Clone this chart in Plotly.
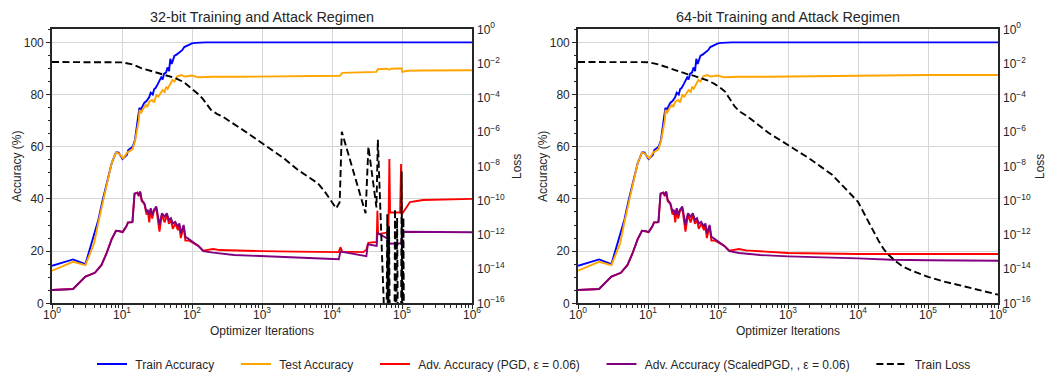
import plotly.graph_objects as go

# ---------------- data ----------------
# Train accuracy (same in both regimens)
train_iters = [1, 2, 3, 3.9, 4.6, 5.3, 6.0, 7.1, 8.2, 8.9, 10.2, 11.2, 11.7, 12.3, 14.2, 15.3,
               16.1, 17.0, 17.7, 18.6, 19.5, 20.9, 22.4, 23.4, 24.5, 25.7, 27.5, 28.8, 30.2,
               32.4, 34.0, 36.3, 38.0, 39.8, 42.7, 44.7, 47.0, 49.0, 51.3, 53.7, 56.2, 60.3,
               66.1, 72.4, 77.6, 85.1, 91.2, 100, 112, 126, 141, 158, 1e6]
train_acc = [14.4, 16.8, 15.0, 24.9, 32.0, 39.6, 45.3, 53.6, 57.8, 57.8, 55.3, 56.5, 56.8, 58.7,
             60.0, 62.5, 66.4, 70.2, 74.9, 74.3, 75.5, 76.9, 77.5, 78.2, 79.0, 80.7, 80.0, 82.1,
             82.5, 84.0, 85.0, 86.6, 85.8, 87.9, 88.5, 90.4, 89.0, 93.7, 91.7, 93.5, 94.9, 95.3,
             96.2, 97.0, 98.2, 98.8, 99.3, 99.6, 99.8, 99.9, 100.0, 100.0, 100.0]

# Test accuracy, shared early part
test_iters = [1, 2, 3, 4.0, 4.6, 5.3, 6.0, 7.1, 8.2, 9.0, 10.4, 11.9, 14.1, 15.3, 16.1, 17.4,
              17.8, 18.6, 20.0, 21.9, 23.0, 24.5, 26.9, 28.8, 30.9, 33.1, 35.5, 38.0, 40.7,
              42.7, 45.0, 47.9, 50.1, 52.5, 56.2, 58.9, 61.7, 70.8, 77.6, 89.1, 100, 123, 158,
              200, 500, 1000, 5000, 12000]
test_acc = [12.5, 15.9, 14.6, 23.0, 31.0, 39.0, 45.0, 53.6, 57.8, 57.4, 55.5, 57.8, 59.0, 62.0,
            65.7, 70.2, 74.1, 72.8, 74.5, 76.0, 75.3, 77.3, 77.9, 77.0, 79.8, 79.2, 80.5, 81.7,
            81.0, 83.0, 82.2, 83.6, 84.8, 85.6, 85.0, 86.2, 87.0, 87.5, 86.9, 87.1, 87.3, 86.6,
            86.7, 86.8, 86.8, 86.9, 87.0, 87.1]
test32_late_iters = [13000, 14000, 20000, 30000, 40000, 43000, 45000, 60000, 66000, 70000,
                     90000, 99000, 101000, 120000, 200000, 1e6]
test32_late_acc = [87.2, 88.3, 88.4, 88.5, 88.6, 88.7, 89.7, 89.9, 89.5, 89.9, 90.0, 90.0,
                   88.7, 89.1, 89.2, 89.3]
test64_late_iters = [13000, 100000, 1e6]
test64_late_acc = [87.2, 87.5, 87.5]

# Adversarial accuracies, shared early part
adv_iters = [1, 2, 3, 4.1, 5.1, 6.0, 7.1, 8.2, 9.3, 10.2, 11.5, 12.2, 13.5, 14.1, 15.1, 16.6,
             17.4, 18.2, 19.1, 20.9, 22.4, 23.4, 24.5, 25.7, 27.0, 28.5, 30.9, 32.4, 34.3, 37.2,
             40.7, 43.7, 46.8, 50.1, 53.1, 57.5, 63.1, 66.1, 69.2, 75.9, 80.4, 91.2, 107, 123, 145]
pgd_acc = [5.1, 5.5, 10.2, 11.7, 14.7, 19.1, 24.5, 27.8, 27.6, 27.3, 29.4, 31.0, 31.0, 31.2,
           41.8, 42.4, 41.0, 42.8, 39.2, 38.0, 34.0, 35.5, 31.0, 36.0, 32.5, 35.2, 36.5, 31.5,
           27.5, 34.0, 31.0, 34.0, 30.5, 32.0, 28.5, 30.5, 28.0, 30.0, 25.0, 29.5, 24.0, 24.0,
           23.0, 22.0, 20.2]
scaled_acc = [5.1, 5.5, 10.2, 11.7, 14.7, 19.1, 24.5, 27.8, 27.6, 27.3, 29.4, 31.0, 31.0, 31.2,
              42.1, 42.4, 41.5, 42.8, 39.6, 38.3, 35.1, 35.8, 33.8, 36.4, 33.8, 35.8, 37.1, 33.2,
              30.0, 34.5, 33.2, 34.5, 31.9, 32.6, 30.6, 31.2, 29.4, 30.6, 26.8, 30.0, 25.5, 24.5,
              23.0, 22.0, 20.0]

pgd32_late_iters = [175, 200, 250, 400, 1000, 3000, 10000, 12500, 13200, 14000, 28000, 31000,
                    33000, 43500, 44500, 45500, 64000, 66000, 67500, 94000, 97000, 99000,
                    130000, 200000, 1e6]
pgd32_late_acc = [20.6, 20.8, 20.4, 20.2, 20.0, 19.8, 19.7, 19.6, 21.5, 19.8, 19.6, 20.5, 23.2,
                  23.5, 35.5, 26.5, 27.2, 55.3, 34.8, 34.8, 53.4, 34.0, 38.8, 39.6, 40.0]
scaled32_late_iters = [175, 200, 400, 1000, 3000, 10000, 12500, 13200, 31000, 32500, 43500,
                       44500, 60000, 63500, 65000, 98000, 100000, 105000, 1e6]
scaled32_late_acc = [19.8, 19.4, 18.5, 18.0, 17.5, 17.0, 16.9, 19.8, 18.1, 22.6, 22.0, 27.0,
                     25.0, 25.0, 22.8, 23.0, 27.3, 27.4, 27.2]

pgd64_late_iters = [175, 200, 250, 400, 1000, 10000, 100000, 1e6]
pgd64_late_acc = [20.6, 20.8, 20.3, 19.9, 19.3, 18.9, 19.0, 18.9]
scaled64_late_iters = [200, 400, 1000, 10000, 30000, 100000, 1e6]
scaled64_late_acc = [19.3, 18.5, 18.0, 17.2, 16.7, 16.5, 16.3]

# Training loss (1e-20 = loss collapsed to zero, below the axis)
loss32_iters = [1, 5, 10, 14.1, 19.1, 26.9, 37.2, 47.9, 58.9, 77.6, 100, 120, 141, 166, 186,
                229, 275, 501, 1000, 1995, 3236, 5012, 6310, 7943, 10000, 11482, 12882, 13804,
                30200, 33113, 43152, 45186, 59566, 61660, 63096, 65313, 67608, 77625, 79433,
                82224, 85114, 88105, 96605, 98855, 101158, 104713, 107152]
loss32 = [1.23e-2, 1.23e-2, 1.17e-2, 8.9e-3, 5.25e-3, 3.55e-3, 2.5e-3, 1.9e-3, 1.38e-3, 7.9e-4,
          3.55e-4, 1.78e-4, 9.3e-5, 4.0e-5, 2.0e-5, 1.12e-5, 7.9e-6, 1.58e-6, 2.2e-7, 3.2e-8,
          6.3e-9, 2.0e-9, 1.0e-9, 3.2e-10, 8.5e-11, 3.5e-11, 7.9e-11, 1.05e-6, 1.8e-11, 1.4e-7,
          4.0e-11, 3.5e-7, 1e-20, 1.6e-11, 1e-20, 3.2e-12, 1e-20, 1e-20, 3.2e-11, 1e-20, 1e-11,
          1e-20, 1e-20, 5.0e-9, 1e-20, 1e-11, 1e-20]
loss64_iters = [1, 5, 10, 14.1, 20.4, 26.9, 35.5, 45.7, 57.5, 72.4, 89.1, 107, 126, 148, 174,
                204, 245, 355, 525, 1000, 1995, 4266, 7413, 10000, 12023, 14454, 16982, 19953,
                23442, 27542, 34674, 43652, 63096, 100000, 158489, 251189, 398107, 602560, 1e6]
loss64 = [1.23e-2, 1.23e-2, 1.2e-2, 8.9e-3, 5.25e-3, 3.55e-3, 2.5e-3, 1.9e-3, 1.38e-3, 1.0e-3,
          6.5e-4, 4.0e-4, 2.3e-4, 8.9e-5, 3.0e-5, 1.58e-5, 1.0e-5, 3.2e-6, 9.1e-7, 1.74e-7,
          2.95e-8, 3.2e-9, 3.3e-10, 8.5e-11, 2.0e-11, 4.7e-12, 1.26e-12, 4.0e-13, 1.41e-13,
          6.6e-14, 2.8e-14, 1.38e-14, 7.1e-15, 3.5e-15, 2.0e-15, 1.26e-15, 7.9e-16, 5.5e-16,
          3.2e-16]

titles = ["32-bit Training and Attack Regimen", "64-bit Training and Attack Regimen"]
names = ["Train Accuracy", "Test Accuracy", "Adv. Accuracy (PGD, ε = 0.06)",
         "Adv. Accuracy (ScaledPGD, , ε = 0.06)", "Train Loss"]
x_tick_vals = [1, 10, 100, 1000, 10000, 100000, 1000000]
x_tick_text = ["10<sup>%d</sup>" % k for k in range(7)]
loss_tick_vals = [10.0 ** (-k) for k in range(0, 17, 2)]
loss_tick_text = ["10<sup>0</sup>"] + ["10<sup>\u2212%d</sup>" % k for k in range(2, 17, 2)]
acc_tick_vals = [0, 20, 40, 60, 80, 100]

# ---------------- figure ----------------
W, H = 1047, 373
TXT = "#262626"
FONT = "Liberation Sans, Arial, sans-serif"
colors = ["#0000ff", "#ffa500", "#ff0000", "#800080", "#000000"]
NB = "\u00a0"

fig = go.Figure()

regimens = [
    dict(test_i=test_iters + test32_late_iters, test_a=test_acc + test32_late_acc,
         pgd_i=adv_iters + pgd32_late_iters, pgd_a=pgd_acc + pgd32_late_acc,
         sc_i=adv_iters + scaled32_late_iters, sc_a=scaled_acc + scaled32_late_acc,
         loss_i=loss32_iters, loss=loss32),
    dict(test_i=test_iters + test64_late_iters, test_a=test_acc + test64_late_acc,
         pgd_i=adv_iters + pgd64_late_iters, pgd_a=pgd_acc + pgd64_late_acc,
         sc_i=adv_iters + scaled64_late_iters, sc_a=scaled_acc + scaled64_late_acc,
         loss_i=loss64_iters, loss=loss64),
]


def legend_label(j):
    pad_r = NB * 5 if j < 4 else ""
    return NB + names[j] + pad_r


for k, r in enumerate(regimens):
    xa = "x" if k == 0 else "x2"
    ya = "y" if k == 0 else "y3"
    yl = "y2" if k == 0 else "y4"
    show = (k == 0)
    series = [(train_iters, train_acc), (r["test_i"], r["test_a"]),
              (r["pgd_i"], r["pgd_a"]), (r["sc_i"], r["sc_a"])]
    for j, (xs, ys) in enumerate(series):
        fig.add_trace(go.Scatter(x=xs, y=ys, mode="lines", name=legend_label(j),
                                 line=dict(color=colors[j], width=1.9),
                                 xaxis=xa, yaxis=ya, showlegend=show, legendrank=j + 1))
    fig.add_trace(go.Scatter(x=r["loss_i"], y=r["loss"], mode="lines", name=legend_label(4),
                             line=dict(color="#000000", width=1.9, dash="7px,3.5px"),
                             xaxis=xa, yaxis=yl, showlegend=show, legendrank=5))

dom_x = [[52 / W, 472 / W], [578 / W, 998 / W]]
dom_y = [1 - 303.3 / H, 1 - 29.3 / H]

common_x = dict(type="log", range=[0, 6], tickvals=x_tick_vals, ticktext=x_tick_text,
                ticks="outside", ticklen=4, tickwidth=1, tickcolor=TXT, automargin=False,
                ticklabelstandoff=-5,
                minor=dict(tickvals=[m * 10 ** d for d in range(6) for m in range(2, 10)],
                           ticks="outside", ticklen=2.5, tickwidth=1, tickcolor=TXT,
                           showgrid=False),
                showgrid=True, gridcolor="#d6d6d6", gridwidth=1,
                showline=True, mirror=True, linecolor=TXT, linewidth=1.6,
                zeroline=False, tickfont=dict(size=12, color=TXT),
                title=dict(text="Optimizer Iterations", font=dict(size=12, color=TXT), standoff=6))
common_y = dict(range=[0, 105], domain=dom_y, tickvals=acc_tick_vals, automargin=False,
                ticks="outside", ticklen=4, tickwidth=1, tickcolor=TXT,
                minor=dict(dtick=5, tick0=0, ticks="outside", ticklen=2.5, tickwidth=1,
                           tickcolor=TXT, showgrid=False),
                showgrid=True, gridcolor="#d6d6d6", gridwidth=1,
                showline=True, mirror=True, linecolor=TXT, linewidth=1.6,
                zeroline=False, tickfont=dict(size=12, color=TXT),
                title=dict(text="Accuracy (%)", font=dict(size=12, color=TXT), standoff=0))
common_l = dict(type="log", range=[-16, 0], tickvals=loss_tick_vals, ticktext=loss_tick_text,
                side="right", ticks="", showgrid=False, zeroline=False, showline=False,
                automargin=False, ticklabelstandoff=4,
                tickfont=dict(size=12, color=TXT),
                title=dict(text="Loss", font=dict(size=12, color=TXT), standoff=8))

fig.update_layout(
    width=W, height=H, margin=dict(l=0, r=0, t=0, b=0, autoexpand=False),
    paper_bgcolor="white", plot_bgcolor="white",
    font=dict(family=FONT, size=12, color=TXT),
    xaxis=dict(domain=dom_x[0], anchor="y", **common_x),
    xaxis2=dict(domain=dom_x[1], anchor="y3", **common_x),
    yaxis=dict(anchor="x", **common_y),
    yaxis2=dict(anchor="x", overlaying="y", domain=dom_y, **common_l),
    yaxis3=dict(anchor="x2", **common_y),
    yaxis4=dict(anchor="x2", overlaying="y3", domain=dom_y, **common_l),
    legend=dict(orientation="h", x=92 / W, xanchor="left", y=1 - 364 / H, yanchor="middle",
                font=dict(size=12, color=TXT), bgcolor="rgba(0,0,0,0)", traceorder="normal"),
    showlegend=True,
)

for k in range(2):
    fig.add_annotation(text=titles[k], xref="paper", yref="paper",
                       x=(dom_x[k][0] + dom_x[k][1]) / 2, y=1 - 17 / H,
                       xanchor="center", yanchor="middle", showarrow=False,
                       font=dict(size=14.4, color=TXT))

fig.write_html("out.html")
